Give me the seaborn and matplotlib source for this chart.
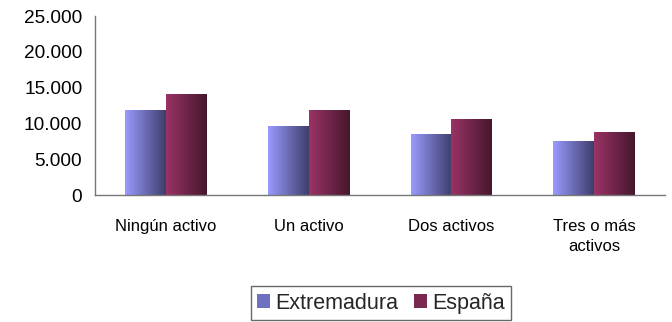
import numpy as np
import pandas as pd
import matplotlib
matplotlib.use("Agg")
import matplotlib.pyplot as plt
import matplotlib.ticker as mticker
from matplotlib.colors import LinearSegmentedColormap
from matplotlib.patches import Rectangle
import seaborn as sns

# data
categories = ["Ningún activo", "Un activo", "Dos activos", "Tres o más\nactivos"]
extremadura = [11900, 9650, 8500, 7550]
espana = [14150, 11900, 10600, 8800]
series_names = ["Extremadura", "España"]

df = pd.DataFrame({
    "categoria": categories * 2,
    "valor": extremadura + espana,
    "serie": [series_names[0]] * 4 + [series_names[1]] * 4,
})

sns.set_style("white")
plt.rcParams["font.family"] = ["Liberation Sans", "DejaVu Sans"]

gradients = {
    "Extremadura": ("#9a9aff", "#3e3e6c"),
    "España": ("#9a3366", "#45172c"),
}

fig = plt.figure(figsize=(6.72, 3.22), dpi=100)
ax = fig.add_axes([0.141, 0.394, 0.849, 0.556])

sns.barplot(data=df, x="categoria", y="valor", hue="serie", order=categories,
            hue_order=series_names, width=0.57, ax=ax, legend=False,
            palette=[gradients[s][0] for s in series_names])

# horizontal gradient fill for each bar, like the old spreadsheet look
ramp = np.linspace(0, 1, 256).reshape(1, -1)
for container, name in zip(ax.containers, series_names):
    cmap = LinearSegmentedColormap.from_list(name, gradients[name])
    for bar in container:
        x0, y0 = bar.get_x(), bar.get_y()
        w, h = bar.get_width(), bar.get_height()
        bar.set_facecolor("none")
        bar.set_edgecolor("none")
        img = ax.imshow(ramp, cmap=cmap, aspect="auto", extent=[x0, x0 + w, y0, y0 + h],
                        origin="lower", zorder=2, interpolation="bilinear")
        img.set_clip_path(bar)

ax.set_xlim(-0.5, 3.5)
ax.set_ylim(0, 25000)
ax.yaxis.set_major_locator(mticker.MultipleLocator(5000))
ax.yaxis.set_major_formatter(mticker.FuncFormatter(lambda v, p: f"{int(v):,}".replace(",", ".")))
ax.set_xlabel("")
ax.set_ylabel("")

ax.set_xticks(np.arange(-0.5, 4.0, 1.0), minor=True)
ax.tick_params(axis="x", which="major", length=0, labelsize=12, pad=17, colors="black")
ax.tick_params(axis="x", which="minor", length=5, width=1, color="#555555", direction="out")
ax.tick_params(axis="y", length=5, width=1, direction="out", labelsize=13.7,
               pad=4, colors="black")
ax.tick_params(axis="y", color="#555555")
for lbl in ax.get_xticklabels():
    lbl.set_linespacing(1.45)

for side in ["top", "right"]:
    ax.spines[side].set_visible(False)
for side in ["left", "bottom"]:
    ax.spines[side].set_color("#777777")
    ax.spines[side].set_linewidth(1)

handles = [Rectangle((0, 0), 1, 1, edgecolor="none") for s in series_names]
handles[0].set_facecolor("#7070c0")
handles[1].set_facecolor("#7a2850")
leg = fig.legend(handles, series_names, loc="center", bbox_to_anchor=(0.567, 0.058),
                 ncol=2, fontsize=15.5, frameon=True, fancybox=False, handlelength=0.6,
                 handleheight=0.6, handletextpad=0.25, columnspacing=0.7, borderpad=0.3)
leg.get_frame().set_edgecolor("#444444")
leg.get_frame().set_linewidth(1)

fig.savefig("out.png", dpi=100)
